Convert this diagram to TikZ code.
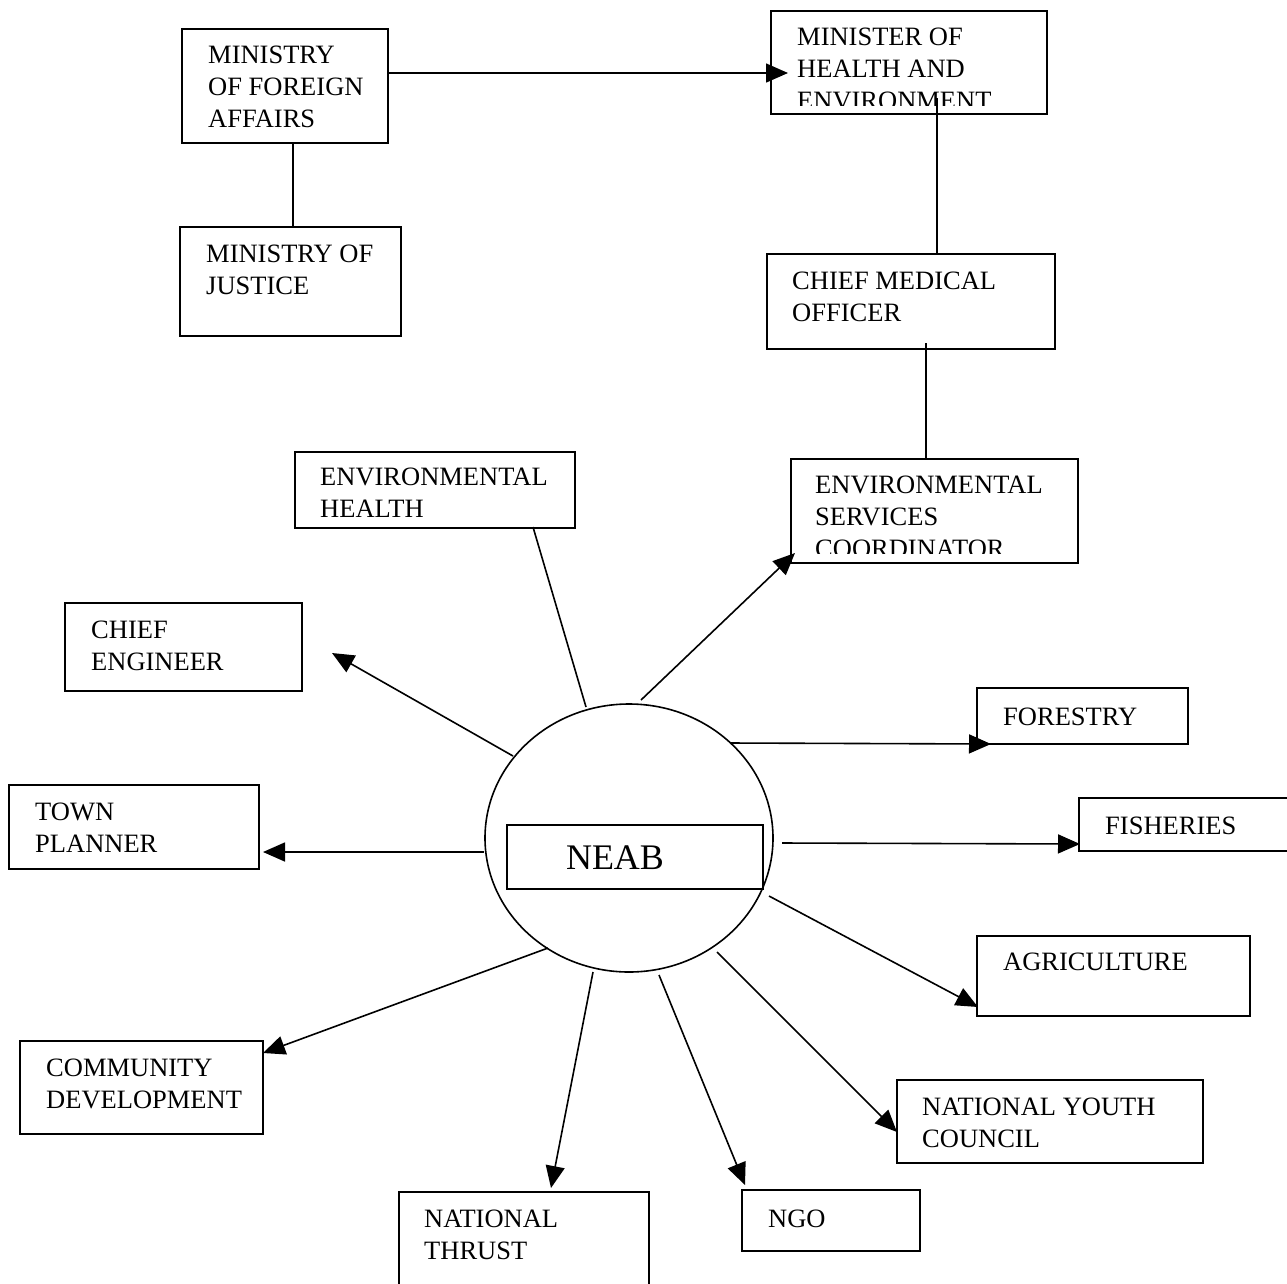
\documentclass[tikz,border=0pt]{standalone}
\usepackage{fontspec}
\setmainfont{Liberation Serif}
\usetikzlibrary{arrows.meta,shapes.geometric}
\tikzset{
  bx/.style={draw, line width=1.6pt, inner sep=0pt, anchor=north west},
  lbl/.style={inner sep=0pt, anchor=north west, align=left, font=\fontsize{26.5}{32}\selectfont},
  con/.style={line width=1.6pt},
  arr/.style={line width=1.6pt, -{Triangle[length=22pt,width=19pt]}}
}
\begin{document}
\begin{tikzpicture}[x=1pt,y=-1pt]
\useasboundingbox (0,0) rectangle (1287,1283);
% boxes
\node[bx, minimum width=206pt, minimum height=114pt] (mfa) at (181,28) {};
\node[bx, minimum width=276pt, minimum height=103pt] (min) at (770,10) {};
\node[bx, minimum width=221pt, minimum height=109pt] (jus) at (179,226) {};
\node[bx, minimum width=288pt, minimum height=95pt] (cmo) at (766,253) {};
\node[bx, minimum width=280pt, minimum height=76pt] (eh) at (294,451) {};
\node[bx, minimum width=287pt, minimum height=104pt] (esc) at (790,458) {};
\node[bx, minimum width=237pt, minimum height=88pt] (ce) at (64,602) {};
\node[bx, minimum width=211pt, minimum height=56pt] (fo) at (976,687) {};
\node[bx, minimum width=250pt, minimum height=84pt] (tp) at (8,784) {};
\node[bx, minimum width=213pt, minimum height=53pt] (fi) at (1078,797) {};
\node[bx, minimum width=273pt, minimum height=80pt] (ag) at (976,935) {};
\node[bx, minimum width=243pt, minimum height=93pt] (cd) at (19,1040) {};
\node[bx, minimum width=306pt, minimum height=83pt] (nyc) at (896,1079) {};
\node[bx, minimum width=250pt, minimum height=96pt] (nt) at (398,1191) {};
\node[bx, minimum width=178pt, minimum height=61pt] (ngo) at (741,1189) {};
% centre
\node[draw, ellipse, line width=1.6pt, inner sep=0pt, minimum width=288pt, minimum height=268pt] (neab) at (629,838) {};
\node[bx, minimum width=256pt, minimum height=64pt] (neabr) at (506,824) {};
\node[inner sep=0pt, font=\fontsize{36}{42}\selectfont] (neabt) at (615,857.5) {NEAB};
% labels
\node[lbl] (t-mfa) at (208,46) {MINISTRY\\OF FOREIGN\\AFFAIRS};
\begin{scope}
\clip (770,10) rectangle (1046,105);
\node[lbl] (t-min) at (797,28) {MINISTER OF\\HEALTH AND\\ENVIRONMENT};
\end{scope}
\node[lbl] (t-jus) at (206,245) {MINISTRY OF\\JUSTICE};
\node[lbl] (t-cmo) at (792,272) {CHIEF MEDICAL\\OFFICER};
\node[lbl] (t-eh) at (320,468) {ENVIRONMENTAL\\HEALTH};
\begin{scope}
\clip (790,458) rectangle (1077,553);
\node[lbl] (t-esc) at (815,476) {ENVIRONMENTAL\\SERVICES\\COORDINATOR};
\end{scope}
\node[lbl] (t-ce) at (91,621) {CHIEF\\ENGINEER};
\node[lbl] (t-fo) at (1003,708) {FORESTRY};
\node[lbl] (t-tp) at (35,803) {TOWN\\PLANNER};
\node[lbl] (t-fi) at (1105,817) {FISHERIES};
\node[lbl] (t-ag) at (1003,953) {AGRICULTURE};
\node[lbl] (t-cd) at (46,1059) {COMMUNITY\\DEVELOPMENT};
\node[lbl] (t-nyc) at (922,1098) {NATIONAL YOUTH\\COUNCIL};
\node[lbl] (t-nt) at (424,1210) {NATIONAL\\THRUST};
\node[lbl] (t-ngo) at (768,1210) {NGO};
% connector end points
\coordinate (mfa-r) at (387,73);
\coordinate (min-l) at (788,73);
\coordinate (mfa-b) at (293,142);
\coordinate (jus-t) at (293,226);
\coordinate (min-b) at (937,98);
\coordinate (cmo-t) at (937,253);
\coordinate (cmo-b) at (926,343);
\coordinate (esc-t) at (926,458);
\coordinate (eh-b) at (533,527);
\coordinate (n-eh) at (586,707);
\coordinate (n-esc) at (641,700);
\coordinate (esc-a) at (795,553);
\coordinate (n-ce) at (513,756);
\coordinate (ce-a) at (332,653);
\coordinate (n-fo) at (730,743);
\coordinate (fo-a) at (991,744);
\coordinate (n-tp) at (484,852);
\coordinate (tp-a) at (263,852);
\coordinate (n-fi) at (782,843);
\coordinate (fi-a) at (1080,844);
\coordinate (n-ag) at (769,896);
\coordinate (ag-a) at (978,1007);
\coordinate (n-cd) at (548,948);
\coordinate (cd-a) at (263,1053);
\coordinate (n-nt) at (593,972);
\coordinate (nt-a) at (551,1188);
\coordinate (n-ngo) at (659,975);
\coordinate (ngo-a) at (745,1185);
\coordinate (n-nyc) at (717,952);
\coordinate (nyc-a) at (897,1132);
% connectors
\draw[arr] (mfa-r) -- (min-l);
\draw[con] (mfa-b) -- (jus-t);
\draw[con] (min-b) -- (cmo-t);
\draw[con] (cmo-b) -- (esc-t);
\draw[con] (eh-b) -- (n-eh);
\draw[arr] (n-esc) -- (esc-a);
\draw[arr] (n-ce) -- (ce-a);
\draw[arr] (n-fo) -- (fo-a);
\draw[arr] (n-tp) -- (tp-a);
\draw[arr] (n-fi) -- (fi-a);
\draw[arr] (n-ag) -- (ag-a);
\draw[arr] (n-cd) -- (cd-a);
\draw[arr] (n-nt) -- (nt-a);
\draw[arr] (n-ngo) -- (ngo-a);
\draw[arr] (n-nyc) -- (nyc-a);
\end{tikzpicture}
\end{document}
